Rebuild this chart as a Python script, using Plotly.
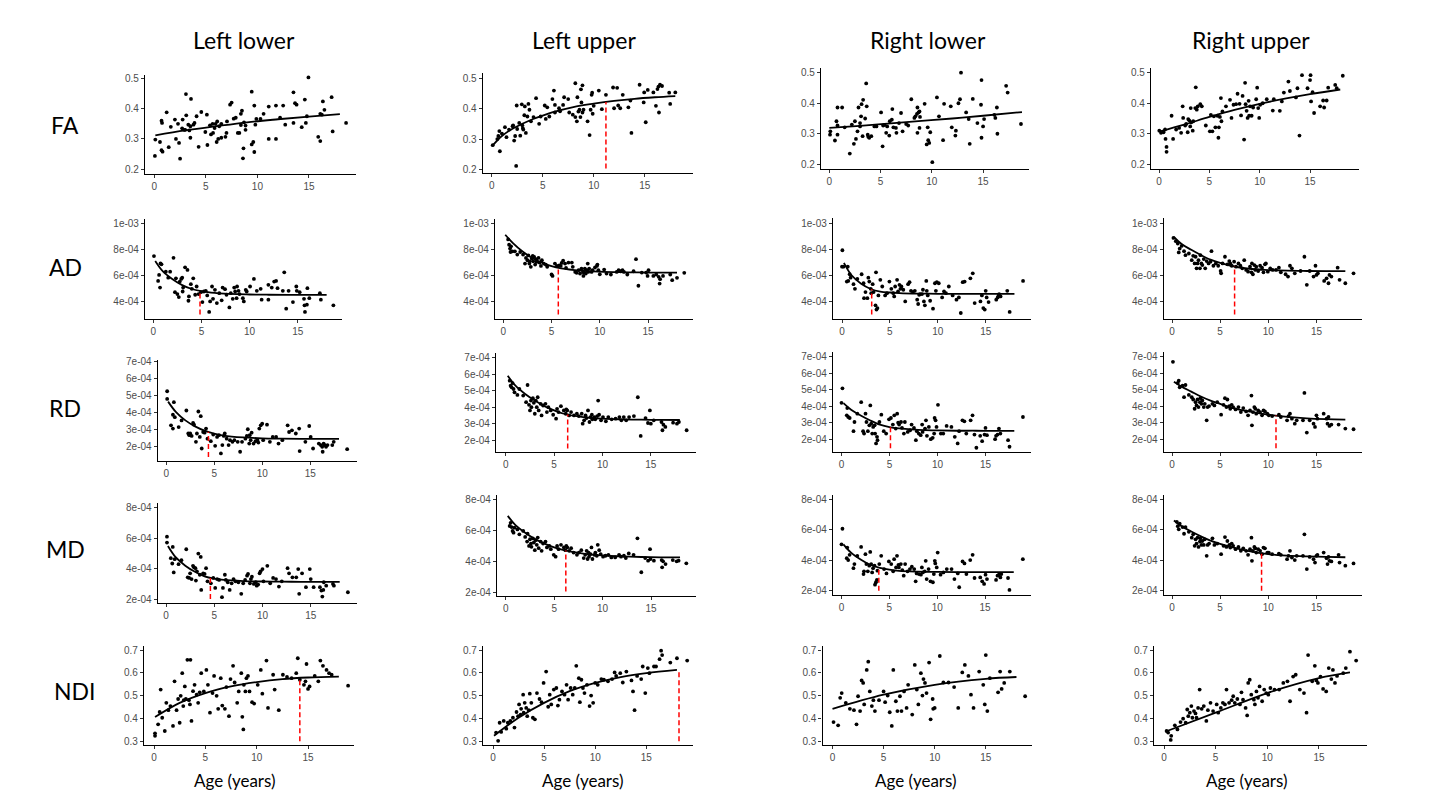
import numpy as np
import plotly.graph_objects as go

W, H = 1429, 805

COLS = ["LL", "LU", "RL", "RU"]
COL_TITLES = ["Left lower", "Left upper", "Right lower", "Right upper"]
ROWS = ["FA", "AD", "RD", "MD", "NDI"]
X_TICKS = [0, 5, 10, 15]
Y_TICKS = {
    "FA": ([0.2, 0.3, 0.4, 0.5], ["0.2", "0.3", "0.4", "0.5"]),
    "AD": ([4e-4, 6e-4, 8e-4, 1e-3], ["4e-04", "6e-04", "8e-04", "1e-03"]),
    "RD": ([2e-4, 3e-4, 4e-4, 5e-4, 6e-4, 7e-4], ["2e-04", "3e-04", "4e-04", "5e-04", "6e-04", "7e-04"]),
    "MD": ([2e-4, 4e-4, 6e-4, 8e-4], ["2e-04", "4e-04", "6e-04", "8e-04"]),
    "NDI": ([0.3, 0.4, 0.5, 0.6, 0.7], ["0.3", "0.4", "0.5", "0.6", "0.7"]),
}
# diffusion values for AD/RD/MD are written in units of 1e-4
UNIT = {"FA": 1.0, "AD": 1e-4, "RD": 1e-4, "MD": 1e-4, "NDI": 1.0}

# ---------------- FA ----------------
FA_LL = [(0.06,0.244),(0.1,0.298),(0.55,0.29),(0.7,0.36),(0.75,0.353),(0.7,0.263),(0.8,0.258),(1.2,0.388),
 (1.4,0.273),(1.6,0.34),(2.0,0.364),(2.1,0.30),(2.3,0.35),(2.4,0.287),(2.5,0.235),(2.7,0.335),(2.75,0.364),
 (2.9,0.33),(3.0,0.33),(3.07,0.448),(3.1,0.378),(3.3,0.347),(3.4,0.328),(3.5,0.342),(3.56,0.432),(3.5,0.304),
 (3.8,0.347),(3.9,0.353),(4.1,0.375),(4.3,0.274),(4.56,0.389),(4.95,0.323),(5.1,0.38),(5.15,0.28),(5.4,0.345),
 (5.5,0.315),(5.66,0.35),(5.7,0.32),(5.85,0.336),(5.95,0.35),(6.05,0.29),(6.1,0.358),(6.2,0.30),(6.3,0.342),
 (6.5,0.304),(6.5,0.35),(6.9,0.307),(7.0,0.32),(7.05,0.358),(7.35,0.413),(7.5,0.42),(7.7,0.367),(7.9,0.37),
 (8.1,0.32),(8.25,0.32),(8.4,0.383),(8.4,0.346),(8.5,0.393),(8.6,0.236),(8.65,0.269),(8.7,0.355),(8.85,0.344),
 (8.85,0.33),(9.45,0.456),(9.45,0.282),(9.6,0.29),(9.7,0.41),(9.7,0.257),(9.8,0.347),(9.9,0.366),(10.3,0.366),
 (10.6,0.383),(11.1,0.407),(11.1,0.30),(11.8,0.41),(11.8,0.30),(12.2,0.37),(12.5,0.41),(12.7,0.347),(13.5,0.454),
 (13.5,0.353),(13.65,0.418),(13.8,0.413),(14.3,0.339),(14.6,0.43),(14.7,0.353),(14.95,0.503),(14.8,0.375),
 (15.9,0.307),(16.1,0.293),(16.1,0.383),(16.25,0.38),(16.35,0.424),(16.5,0.396),(17.2,0.438),(17.3,0.325),(18.6,0.353)]
FA_LU = [(0.1,0.28),(0.55,0.30),(0.65,0.31),(0.75,0.326),(0.8,0.26),(1.0,0.318),(1.3,0.339),(1.45,0.306),
 (1.7,0.331),(2.05,0.342),(2.1,0.345),(2.2,0.295),(2.3,0.31),(2.4,0.212),(2.45,0.41),(2.5,0.333),(2.7,0.353),
 (2.8,0.311),(2.95,0.414),(3.0,0.345),(3.05,0.336),(3.1,0.331),(3.2,0.378),(3.25,0.407),(3.35,0.32),(3.5,0.374),
 (3.6,0.415),(3.7,0.396),(3.85,0.358),(4.1,0.372),(4.35,0.434),(4.65,0.35),(4.8,0.374),(5.2,0.41),(5.3,0.366),
 (5.45,0.404),(5.65,0.374),(5.95,0.431),(6.1,0.459),(6.2,0.412),(6.2,0.387),(6.6,0.401),(6.7,0.391),(7.0,0.412),
 (7.1,0.437),(7.5,0.431),(7.6,0.387),(7.95,0.38),(8.2,0.372),(8.2,0.483),(8.35,0.358),(8.4,0.437),(8.5,0.39),
 (8.6,0.396),(8.7,0.372),(8.75,0.463),(8.8,0.42),(8.9,0.476),(8.9,0.387),(9.0,0.396),(9.4,0.358),(9.6,0.313),
 (9.7,0.396),(9.8,0.445),(9.85,0.452),(9.9,0.383),(10.0,0.409),(10.5,0.459),(10.8,0.398),(11.2,0.445),
 (11.9,0.469),(12.0,0.401),(12.3,0.468),(12.4,0.41),(12.6,0.401),(12.85,0.445),(13.4,0.404),(13.7,0.32),
 (13.6,0.426),(14.5,0.478),(14.9,0.42),(14.95,0.453),(15.1,0.355),(15.3,0.461),(15.85,0.453),(16.1,0.409),
 (16.25,0.464),(16.35,0.472),(16.4,0.387),(16.5,0.478),(16.7,0.474),(17.4,0.452),(17.5,0.415),(18.0,0.453)]
FA_RL = [(0.07,0.297),(0.1,0.308),(0.55,0.278),(0.7,0.341),(0.8,0.386),(0.8,0.327),(0.8,0.297),(1.25,0.386),
 (1.5,0.321),(2.0,0.235),(2.2,0.33),(2.4,0.267),(2.5,0.341),(2.6,0.283),(2.75,0.308),(2.85,0.386),(3.0,0.335),
 (3.0,0.324),(3.1,0.357),(3.15,0.397),(3.25,0.292),(3.3,0.411),(3.5,0.35),(3.6,0.465),(3.65,0.39),(3.75,0.297),
 (3.8,0.29),(3.9,0.287),(4.1,0.292),(4.4,0.324),(4.6,0.324),(5.05,0.37),(5.2,0.259),(5.25,0.327),(5.4,0.329),
 (5.55,0.303),(5.65,0.324),(5.85,0.294),(5.9,0.341),(6.1,0.346),(6.15,0.381),(6.25,0.321),(6.5,0.319),
 (6.55,0.303),(6.8,0.335),(7.0,0.368),(7.15,0.308),(7.5,0.332),(7.7,0.327),(8.0,0.413),(8.3,0.352),(8.4,0.357),
 (8.55,0.365),(8.6,0.303),(8.6,0.386),(8.7,0.37),(8.8,0.373),(8.8,0.319),(8.85,0.355),(9.3,0.398),(9.5,0.265),
 (9.6,0.321),(9.65,0.279),(9.75,0.27),(9.85,0.305),(10.05,0.207),(10.5,0.419),(10.7,0.357),(11.1,0.279),
 (11.2,0.398),(11.85,0.39),(11.95,0.321),(12.3,0.294),(12.35,0.31),(12.6,0.40),(12.75,0.413),(12.85,0.50),
 (13.35,0.37),(13.6,0.348),(13.7,0.267),(14.0,0.414),(14.45,0.335),(14.8,0.395),(14.85,0.476),(14.85,0.287),
 (15.0,0.324),(15.1,0.348),(16.1,0.362),(16.2,0.352),(16.35,0.386),(16.4,0.30),(17.25,0.457),(17.4,0.435),(18.7,0.332)]
FA_RU = [(0.03,0.31),(0.2,0.303),(0.45,0.305),(0.6,0.314),(0.65,0.283),(0.75,0.257),(0.75,0.241),(1.25,0.359),
 (1.4,0.283),(1.7,0.314),(2.0,0.319),(2.2,0.303),(2.35,0.39),(2.4,0.352),(2.6,0.327),(2.7,0.332),(2.85,0.305),
 (2.9,0.348),(3.0,0.344),(3.1,0.324),(3.15,0.384),(3.2,0.337),(3.35,0.31),(3.4,0.341),(3.6,0.384),(3.65,0.452),
 (3.75,0.379),(3.85,0.39),(4.1,0.397),(4.25,0.39),(4.65,0.327),(5.05,0.308),(5.15,0.362),(5.3,0.308),(5.45,0.357),
 (5.6,0.321),(5.8,0.359),(5.9,0.287),(5.95,0.321),(6.05,0.355),(6.15,0.417),(6.2,0.341),(6.3,0.373),(6.65,0.39),
 (7.05,0.411),(7.2,0.352),(7.4,0.395),(7.65,0.397),(7.8,0.431),(8.0,0.398),(8.15,0.36),(8.3,0.424),(8.45,0.281),
 (8.55,0.467),(8.6,0.397),(8.7,0.375),(8.8,0.352),(8.9,0.408),(8.95,0.359),(9.05,0.39),(9.2,0.359),(9.35,0.386),
 (9.65,0.413),(9.75,0.451),(9.85,0.384),(9.95,0.352),(10.05,0.395),(10.3,0.40),(10.7,0.413),(11.3,0.376),
 (11.4,0.413),(12.0,0.375),(12.2,0.406),(12.4,0.435),(12.85,0.471),(13.0,0.44),(13.6,0.419),(13.75,0.449),
 (13.95,0.294),(14.2,0.492),(14.75,0.449),(15.0,0.476),(15.05,0.492),(15.1,0.406),(15.25,0.436),(15.4,0.368),
 (16.0,0.39),(16.3,0.409),(16.4,0.386),(16.65,0.409),(16.8,0.451),(17.5,0.46),(17.65,0.449),(18.25,0.49)]

# ---------------- AD (x1e-4) ----------------
AD_LL = [(0.07,7.47),(0.5,5.57),(0.6,6.03),(0.7,5.06),(0.75,6.91),(0.85,6.84),(1.3,6.28),(1.55,5.82),(1.75,6.28),
 (2.1,7.34),(2.25,4.71),(2.35,5.77),(2.5,4.56),(2.65,4.33),(2.75,5.52),(2.9,5.72),(3.0,5.82),(3.05,4.76),(3.1,5.06),
 (3.3,6.61),(3.55,6.41),(3.65,4.05),(3.7,4.38),(3.9,5.32),(4.0,4.96),(4.15,5.77),(4.35,4.51),(4.5,5.14),(4.7,4.56),
 (4.95,4.71),(5.1,3.95),(5.25,4.76),(5.45,4.81),(5.6,4.46),(5.8,3.19),(5.9,4.0),(6.1,5.14),(6.2,4.2),(6.4,4.89),
 (6.6,3.87),(6.85,4.63),(7.1,4.08),(7.2,5.06),(7.45,4.94),(7.6,4.51),(7.9,3.54),(8.05,4.63),(8.25,4.2),(8.4,5.06),
 (8.5,4.76),(8.65,4.25),(8.7,5.14),(8.85,4.81),(8.95,4.56),(9.3,4.25),(9.4,4.0),(9.6,4.89),(9.7,4.76),(10.05,5.14),
 (10.45,5.72),(10.75,4.81),(11.15,4.96),(11.25,4.13),(11.95,4.13),(11.95,5.27),(12.3,5.06),(12.55,5.52),
 (12.75,5.57),(12.9,5.01),(13.45,4.81),(13.6,6.23),(13.8,3.44),(14.05,4.81),(14.5,3.95),(14.85,5.14),(14.9,4.81),
 (15.2,4.71),(15.65,4.2),(15.7,3.7),(15.75,3.19),(15.95,3.75),(16.0,5.01),(16.2,4.25),(17.3,4.63),(17.4,4.13),(18.7,3.7)]
AD_LU = [(0.5,8.79),(0.6,8.38),(0.7,8.08),(0.75,7.82),(0.8,8.26),(0.95,7.87),(1.2,7.87),(1.45,7.62),(1.75,7.82),
 (2.05,7.62),(2.25,6.92),(2.35,7.36),(2.5,7.18),(2.6,7.56),(2.7,6.92),(2.75,7.1),(2.85,6.67),(2.95,7.31),(3.05,7.51),
 (3.1,7.1),(3.2,7.44),(3.3,6.85),(3.4,7.26),(3.45,7.05),(3.65,7.36),(3.75,7.0),(3.9,6.74),(4.0,7.18),(4.2,6.92),
 (4.4,6.85),(4.55,6.67),(5.0,6.08),(5.1,5.97),(5.35,6.92),(5.55,6.74),(5.8,6.79),(5.95,6.74),(6.05,6.97),(6.2,7.15),
 (6.4,6.92),(6.5,6.59),(6.75,7.0),(7.1,7.0),(7.2,6.67),(7.45,6.28),(7.6,6.21),(7.8,6.41),(7.95,6.15),(8.1,6.54),
 (8.25,6.28),(8.3,5.97),(8.35,6.23),(8.45,6.54),(8.55,6.15),(8.65,6.41),(8.75,6.92),(8.8,6.28),(8.9,6.54),
 (9.15,6.28),(9.25,6.41),(9.5,6.62),(9.7,6.74),(9.75,6.85),(9.85,6.41),(10.0,6.1),(10.45,6.46),(10.7,6.15),
 (11.15,6.08),(11.75,6.28),(11.95,6.41),(12.15,6.33),(12.35,6.41),(12.5,6.28),(12.85,6.08),(13.5,6.33),(13.75,7.26),
 (14.0,5.21),(14.35,6.23),(14.8,6.23),(14.95,5.97),(15.05,6.41),(15.55,5.97),(15.85,6.08),(16.1,5.9),(16.2,5.38),
 (16.25,5.72),(16.55,5.97),(17.3,6.08),(17.5,5.64),(18.0,5.82),(18.75,6.21)]
AD_RL = [(0.04,7.92),(0.0,6.66),(0.15,6.66),(0.5,5.52),(0.6,6.66),(0.65,5.57),(0.8,6.08),(0.9,5.82),(1.2,5.32),
 (1.35,4.96),(1.6,5.72),(2.05,6.08),(2.25,5.39),(2.3,4.25),(2.45,4.71),(2.65,4.25),(2.75,5.82),(2.85,5.52),(3.0,4.96),
 (3.05,4.63),(3.2,5.32),(3.3,4.71),(3.5,3.7),(3.55,6.23),(3.6,3.37),(3.7,3.49),(3.8,4.46),(4.0,5.65),(4.2,5.14),
 (4.5,4.46),(4.7,4.63),(4.95,5.52),(5.15,4.96),(5.35,4.63),(5.45,4.38),(5.55,5.14),(5.75,5.65),(5.85,4.76),(6.0,5.27),
 (6.1,4.96),(6.2,5.14),(6.4,4.89),(6.6,4.0),(6.9,5.32),(7.05,5.47),(7.2,4.81),(7.4,4.71),(7.6,4.81),(7.85,4.13),
 (7.95,3.8),(8.05,4.51),(8.15,4.56),(8.35,4.56),(8.45,4.89),(8.55,4.0),(8.65,3.7),(8.8,5.57),(8.85,4.81),(8.95,4.46),
 (9.2,4.05),(9.5,3.44),(9.7,5.39),(9.8,4.81),(9.9,5.47),(10.1,5.39),(10.45,4.3),(10.65,4.76),(10.85,4.63),(11.15,5.14),
 (11.55,4.46),(11.95,4.13),(12.2,4.3),(12.4,3.11),(12.6,5.47),(12.8,5.52),(13.4,5.77),(13.65,6.15),(13.85,3.87),
 (14.45,4.0),(14.6,4.46),(14.75,3.49),(14.9,3.37),(15.0,4.81),(15.1,4.3),(15.3,3.95),(16.1,4.13),(16.25,4.3),
 (16.35,4.46),(16.4,4.56),(16.55,4.38),(17.25,4.81),(17.5,3.19),(18.9,5.57)]
AD_RU = [(0.15,8.86),(0.4,8.61),(0.6,8.43),(0.7,7.75),(0.8,8.05),(1.0,8.25),(1.25,7.85),(1.4,7.54),(1.75,7.67),
 (2.05,7.16),(2.2,7.49),(2.35,6.91),(2.45,7.42),(2.55,6.53),(2.65,6.91),(2.75,7.16),(2.9,6.53),(2.95,7.54),(3.05,6.91),
 (3.15,6.78),(3.3,7.24),(3.45,6.53),(3.6,7.09),(3.8,6.91),(4.0,7.04),(4.1,7.85),(4.3,6.73),(4.55,6.91),(4.8,6.73),
 (5.05,6.33),(5.1,6.15),(5.25,6.91),(5.5,7.42),(5.75,6.84),(5.95,7.09),(6.05,6.91),(6.2,6.73),(6.45,7.04),(6.65,6.66),
 (6.9,6.91),(7.1,6.73),(7.3,6.53),(7.5,7.16),(7.7,6.41),(7.9,6.28),(8.1,6.66),(8.25,6.23),(8.3,6.91),(8.4,6.08),
 (8.55,6.78),(8.65,6.41),(8.75,6.66),(8.95,6.33),(9.15,6.73),(9.35,6.58),(9.5,6.23),(9.65,6.84),(9.75,6.91),
 (9.95,6.28),(10.2,6.53),(10.45,6.41),(10.8,6.41),(11.1,6.58),(11.3,6.23),(11.8,6.08),(12.05,5.9),(12.25,6.73),
 (12.45,6.53),(12.75,6.15),(13.35,6.33),(13.75,7.42),(14.0,5.27),(14.3,6.33),(14.7,5.9),(14.9,6.73),(15.0,6.03),
 (15.15,6.15),(15.8,5.57),(16.05,5.77),(16.25,5.39),(16.35,6.03),(16.55,5.9),(17.2,6.58),(17.4,5.65),(18.0,5.39),(18.85,6.15)]

# ---------------- RD (x1e-4) ----------------
RD_LL = [(0.1,5.26),(0.1,4.81),(0.5,3.26),(0.7,3.07),(0.7,3.88),(0.8,4.62),(0.9,3.74),(1.3,3.16),(1.6,3.55),
 (2.1,4.13),(2.3,2.78),(2.4,2.68),(2.5,2.78),(2.65,2.64),(2.8,3.4),(2.9,3.3),(3.1,2.29),(3.2,2.78),(3.35,4.07),
 (3.5,2.58),(3.6,3.8),(3.7,1.9),(3.85,2.87),(4.0,2.83),(4.15,3.07),(4.3,2.48),(4.65,2.33),(4.9,2.72),(5.1,2.06),
 (5.3,2.58),(5.5,2.68),(5.7,1.61),(5.85,2.1),(6.0,2.64),(6.1,2.78),(6.3,2.48),(6.5,2.1),(6.65,2.39),(6.9,2.29),
 (7.1,2.39),(7.45,2.29),(7.7,1.71),(7.9,2.29),(8.25,2.48),(8.4,2.64),(8.5,3.03),(8.65,2.19),(8.7,2.68),(8.8,2.39),
 (8.9,2.83),(9.1,2.19),(9.3,2.33),(9.5,2.39),(9.6,2.25),(9.7,3.07),(9.85,3.26),(10.0,3.36),(10.1,2.39),(10.5,3.3),
 (10.8,2.29),(11.1,2.58),(11.45,2.58),(11.7,2.19),(12.1,2.39),(12.65,3.26),(12.8,2.87),(13.1,2.97),(13.5,2.78),
 (13.85,3.07),(13.9,1.75),(14.5,2.29),(14.9,3.22),(15.05,2.58),(15.3,1.9),(15.9,2.19),(16.1,2.1),(16.25,2.0),
 (16.3,1.71),(16.4,2.19),(16.5,2.1),(16.65,2.0),(16.8,2.1),(17.3,2.1),(17.45,2.29),(18.85,1.86)]
RD_LU = [(0.4,5.6),(0.5,5.3),(0.6,5.2),(0.7,5.46),(0.8,5.1),(0.9,4.9),(1.2,4.74),(1.4,5.1),(1.8,4.7),(2.1,4.3),
 (2.25,5.34),(2.4,4.14),(2.5,3.8),(2.6,4.4),(2.65,4.0),(2.8,4.54),(2.9,4.26),(3.0,3.6),(3.1,4.4),(3.2,4.0),(3.3,4.6),
 (3.4,3.8),(3.6,4.2),(3.7,3.5),(3.85,4.1),(4.1,4.2),(4.25,3.7),(4.4,4.0),(4.65,3.8),(4.9,3.54),(5.2,3.3),(5.3,3.9),
 (5.45,3.7),(5.7,4.06),(6.0,3.8),(6.2,3.6),(6.25,3.86),(6.35,3.8),(6.55,3.5),(6.75,3.7),(7.05,3.5),(7.35,3.6),
 (7.55,3.46),(7.85,3.6),(7.95,3.0),(8.1,3.2),(8.25,3.5),(8.35,3.34),(8.5,3.8),(8.65,3.1),(8.75,3.4),(8.9,3.54),
 (8.95,3.26),(9.15,3.4),(9.25,3.26),(9.45,3.46),(9.55,4.4),(9.65,3.54),(9.85,3.2),(10.05,3.4),(10.35,3.14),
 (10.6,3.4),(10.95,3.26),(11.35,3.3),(11.75,3.4),(11.95,3.2),(12.2,3.4),(12.45,3.2),(12.75,3.4),(13.25,3.46),
 (13.65,4.6),(13.95,2.26),(14.45,3.34),(14.7,3.04),(14.9,3.8),(15.0,3.0),(15.3,3.2),(16.1,3.1),(16.2,2.6),
 (16.3,2.94),(16.5,2.8),(17.3,3.06),(17.7,3.0),(17.9,3.1),(18.7,2.6)]
RD_RL = [(0.1,5.1),(0.0,4.22),(0.55,3.46),(0.6,3.9),(0.7,3.36),(0.85,3.3),(1.25,2.5),(1.35,3.06),(1.65,3.56),
 (2.05,4.26),(2.25,2.5),(2.35,2.36),(2.5,3.56),(2.6,3.06),(2.75,2.5),(2.9,2.86),(3.0,4.06),(3.1,2.96),(3.2,2.36),
 (3.3,2.76),(3.45,2.86),(3.5,2.36),(3.6,1.76),(3.7,2.16),(3.75,1.96),(3.95,3.06),(4.15,3.5),(4.4,2.5),(4.65,2.36),
 (4.95,3.22),(5.15,3.3),(5.35,2.9),(5.5,3.46),(5.65,2.66),(5.8,3.56),(5.9,3.02),(6.0,2.9),(6.2,3.06),(6.3,2.7),
 (6.5,2.36),(6.6,3.06),(6.9,2.46),(7.15,2.56),(7.3,2.9),(7.55,2.7),(7.75,1.96),(7.85,2.5),(8.05,2.36),(8.25,2.26),
 (8.4,2.9),(8.45,2.46),(8.7,2.66),(8.8,3.16),(8.9,2.22),(9.1,2.76),(9.3,2.02),(9.5,2.1),(9.65,2.36),(9.7,3.3),
 (9.8,3.16),(9.9,2.76),(10.05,4.1),(10.35,2.36),(10.6,2.36),(10.95,2.82),(11.45,2.76),(11.8,2.16),(12.1,1.76),
 (12.25,2.5),(12.6,3.16),(12.8,3.1),(13.0,2.36),(13.45,3.16),(13.65,3.46),(13.85,2.3),(14.05,1.5),(14.45,2.22),
 (14.65,1.9),(14.9,2.3),(15.0,2.7),(15.15,2.26),(16.0,2.02),(16.1,2.22),(16.25,2.3),(16.4,2.66),(16.55,2.36),
 (17.35,1.96),(17.5,1.56),(18.9,3.36)]
RD_RU = [(0.1,6.7),(0.6,5.42),(0.7,5.56),(0.8,5.16),(1.1,5.26),(1.25,4.56),(1.4,5.3),(1.75,4.7),(2.05,4.56),
 (2.2,4.42),(2.35,3.86),(2.45,4.26),(2.55,4.06),(2.65,4.42),(2.75,3.96),(2.9,4.26),(2.95,4.5),(3.05,4.16),(3.15,4.36),
 (3.3,3.96),(3.4,4.16),(3.6,3.16),(3.7,3.96),(3.85,4.02),(4.2,4.16),(4.4,4.06),(4.7,4.26),(5.1,3.5),(5.35,4.1),
 (5.5,4.5),(5.65,3.96),(5.75,4.42),(5.95,4.02),(6.05,3.86),(6.2,4.1),(6.35,3.96),(6.6,3.82),(6.9,3.96),(7.15,3.66),
 (7.4,3.9),(7.7,3.7),(7.9,3.46),(8.1,3.76),(8.25,4.66),(8.3,2.86),(8.4,3.66),(8.55,3.96),(8.65,3.86),(8.75,3.56),
 (8.95,3.76),(9.15,3.66),(9.35,3.46),(9.5,3.76),(9.65,3.7),(9.9,3.56),(10.05,3.46),(10.4,3.42),(11.1,3.5),
 (11.3,3.36),(11.95,3.16),(12.1,3.42),(12.25,3.56),(12.45,3.26),(12.75,2.96),(12.95,3.16),(13.6,3.16),(13.75,4.82),
 (14.0,2.42),(14.3,3.16),(14.7,2.96),(14.85,2.76),(15.0,3.46),(15.1,3.26),(15.75,3.56),(16.05,3.26),(16.15,2.96),
 (16.25,3.36),(16.35,2.82),(16.55,2.9),(17.3,2.9),(18.0,2.66),(18.85,2.62)]

# ---------------- MD (x1e-4) ----------------
MD_LL = [(0.1,6.09),(0.1,5.7),(0.5,4.69),(0.65,4.34),(0.7,5.42),(0.8,3.76),(0.9,4.62),(1.3,4.3),(1.6,4.56),
 (2.1,5.27),(2.25,3.44),(2.4,3.4),(2.5,3.7),(2.65,3.33),(2.8,4.19),(2.9,4.09),(3.05,4.04),(3.1,3.23),(3.2,3.83),
 (3.35,4.99),(3.5,3.61),(3.6,4.77),(3.65,2.62),(3.85,3.7),(4.0,3.66),(4.15,4.04),(4.3,3.18),(4.65,3.05),(4.9,3.4),
 (5.1,2.75),(5.3,3.33),(5.5,3.27),(5.8,2.15),(5.9,2.75),(6.1,3.61),(6.2,3.27),(6.4,3.12),(6.6,2.62),(6.8,3.05),
 (7.0,3.33),(7.2,3.18),(7.5,3.12),(7.8,2.37),(8.0,3.05),(8.2,3.27),(8.4,3.55),(8.5,3.66),(8.7,3.05),(8.8,3.33),
 (8.9,3.48),(9.1,3.01),(9.3,3.12),(9.4,2.9),(9.55,2.97),(9.7,3.7),(9.8,3.83),(10.0,3.98),(10.1,3.18),(10.5,4.19),
 (10.8,3.05),(11.1,3.4),(11.4,3.33),(11.7,2.84),(12.0,3.18),(12.6,4.04),(12.75,3.7),(13.1,3.44),(13.5,3.44),
 (13.7,3.98),(13.8,2.37),(14.1,3.7),(14.5,2.8),(14.9,3.98),(15.0,3.33),(15.3,2.8),(15.95,2.8),(16.1,2.58),
 (16.2,2.19),(16.3,2.62),(16.35,3.12),(16.6,2.9),(17.3,3.01),(17.4,2.9),(18.85,2.47)]
MD_LU = [(0.4,6.29),(0.5,6.5),(0.6,6.22),(0.7,5.97),(0.8,5.86),(0.9,6.18),(1.2,6.07),(1.4,5.75),(1.8,5.97),
 (2.0,5.58),(2.2,5.28),(2.25,5.79),(2.4,5.0),(2.5,5.43),(2.6,5.15),(2.65,4.94),(2.8,5.49),(2.9,5.22),(3.0,4.72),
 (3.1,5.37),(3.2,5.07),(3.3,5.54),(3.4,4.85),(3.6,5.28),(3.7,4.68),(3.85,5.15),(4.1,5.28),(4.25,4.9),(4.5,5.0),
 (4.65,4.79),(4.95,4.42),(5.15,4.3),(5.3,5.0),(5.45,4.79),(5.7,5.07),(6.0,4.9),(6.15,4.72),(6.25,5.0),(6.35,4.9),
 (6.55,4.68),(6.75,4.85),(7.0,4.57),(7.35,4.42),(7.55,4.57),(7.8,4.72),(8.05,4.21),(8.2,4.42),(8.35,4.68),
 (8.45,4.15),(8.55,4.57),(8.6,4.3),(8.75,4.47),(8.85,4.9),(8.95,4.15),(9.15,4.42),(9.25,4.57),(9.4,4.36),(9.5,5.07),
 (9.65,4.72),(9.8,4.47),(10.05,4.3),(10.3,4.36),(10.6,4.42),(10.9,4.25),(11.3,4.25),(11.7,4.42),(11.9,4.3),
 (12.2,4.36),(12.4,4.21),(12.7,4.51),(13.2,4.42),(13.6,5.49),(14.0,3.29),(14.4,4.21),(14.7,4.04),(14.9,4.79),
 (14.95,4.15),(15.3,4.04),(16.1,4.08),(16.15,3.61),(16.25,4.0),(16.5,3.82),(17.25,4.08),(17.65,4.0),(17.85,4.04),(18.65,3.87)]
MD_RL = [(0.1,6.08),(0.0,5.05),(0.55,4.14),(0.6,4.84),(0.7,4.01),(0.85,4.36),(1.25,3.48),(1.35,3.75),(1.65,4.29),
 (2.05,4.88),(2.3,3.09),(2.35,3.27),(2.5,4.4),(2.6,3.75),(2.75,3.27),(2.9,3.64),(3.0,4.55),(3.1,3.75),(3.2,3.2),
 (3.3,3.48),(3.45,3.64),(3.5,2.39),(3.6,2.55),(3.7,2.7),(3.75,3.31),(3.95,3.75),(4.15,4.29),(4.45,3.42),(4.7,3.13),
 (4.95,3.92),(5.2,3.75),(5.4,3.27),(5.5,4.07),(5.7,3.53),(5.8,4.29),(5.95,3.7),(6.0,3.53),(6.2,3.75),(6.35,3.35),
 (6.5,2.98),(6.65,3.75),(6.9,3.27),(7.15,3.42),(7.35,3.57),(7.6,3.42),(7.75,2.61),(7.85,3.13),(8.1,3.09),(8.3,3.05),
 (8.4,3.53),(8.5,3.2),(8.7,3.27),(8.8,3.96),(8.9,2.76),(9.1,3.42),(9.3,2.61),(9.55,2.55),(9.65,3.09),(9.75,3.96),
 (9.8,3.79),(9.95,3.53),(10.05,4.51),(10.35,3.05),(10.65,3.2),(11.0,3.42),(11.5,3.42),(11.8,2.76),(12.15,3.13),
 (12.3,2.22),(12.65,3.92),(12.85,3.79),(13.05,3.09),(13.45,4.01),(13.7,4.36),(13.9,2.83),(14.5,2.87),(14.7,2.61),
 (14.9,2.44),(15.05,3.05),(15.2,2.76),(16.15,2.7),(16.3,2.98),(16.45,3.05),(16.6,2.87),(16.7,3.09),(17.4,2.83),
 (17.55,2.04),(18.95,4.07)]
MD_RU = [(0.5,6.54),(0.6,6.25),(0.7,6.04),(0.8,6.41),(1.1,6.19),(1.25,5.75),(1.4,6.19),(1.75,5.88),(2.05,5.49),
 (2.2,5.71),(2.35,4.95),(2.45,5.38),(2.55,5.1),(2.65,5.49),(2.75,4.88),(2.9,5.23),(2.95,5.45),(3.05,5.01),(3.15,5.27),
 (3.3,5.01),(3.4,5.38),(3.6,4.29),(3.7,5.01),(3.85,5.1),(4.2,5.45),(4.4,5.01),(4.7,5.1),(5.1,4.4),(5.35,4.95),
 (5.5,5.53),(5.65,4.88),(5.75,5.27),(5.95,5.01),(6.05,4.84),(6.2,5.1),(6.35,4.95),(6.6,4.73),(6.9,4.88),(7.15,4.62),
 (7.4,4.79),(7.7,4.62),(7.9,4.36),(8.1,4.73),(8.25,5.49),(8.3,3.96),(8.4,4.62),(8.55,4.88),(8.65,4.79),(8.75,4.51),
 (8.95,4.73),(9.15,4.62),(9.35,4.4),(9.5,4.84),(9.65,4.79),(9.9,4.51),(10.05,4.51),(10.4,4.4),(11.1,4.44),(11.3,4.36),
 (11.95,4.07),(12.1,4.29),(12.25,4.62),(12.45,4.18),(12.75,4.01),(12.95,4.29),(13.6,4.29),(13.75,5.71),(14.0,3.42),
 (14.3,4.22),(14.7,4.07),(14.85,3.85),(15.0,4.29),(15.1,4.36),(15.75,4.51),(16.05,4.14),(16.15,3.75),(16.25,4.22),
 (16.35,3.96),(16.55,3.92),(17.3,4.36),(17.4,3.85),(18.0,3.64),(18.85,3.79)]

# ---------------- NDI ----------------
NDI_LL = [(0.1,0.336),(0.1,0.325),(0.4,0.375),(0.55,0.429),(0.65,0.527),(0.8,0.404),(1.05,0.346),(1.2,0.469),
 (1.4,0.437),(1.6,0.455),(1.85,0.368),(2.0,0.563),(2.2,0.437),(2.35,0.486),(2.5,0.382),(2.6,0.50),(2.75,0.599),
 (2.85,0.455),(2.9,0.481),(3.0,0.541),(3.1,0.486),(3.25,0.657),(3.4,0.481),(3.5,0.462),(3.55,0.657),(3.65,0.39),
 (3.8,0.52),(3.95,0.548),(4.15,0.505),(4.3,0.469),(4.45,0.515),(4.6,0.599),(4.85,0.519),(5.1,0.613),(5.25,0.548),
 (5.45,0.426),(5.7,0.512),(5.85,0.587),(6.1,0.50),(6.25,0.443),(6.5,0.577),(6.65,0.457),(6.9,0.443),(7.05,0.538),
 (7.3,0.411),(7.45,0.573),(7.7,0.631),(7.85,0.558),(8.1,0.469),(8.25,0.519),(8.5,0.599),(8.6,0.408),(8.7,0.353),
 (8.75,0.548),(8.9,0.519),(9.0,0.577),(9.15,0.587),(9.3,0.519),(9.55,0.472),(9.75,0.466),(10.1,0.548),(10.4,0.613),
 (10.55,0.509),(10.95,0.654),(11.1,0.447),(11.6,0.592),(11.75,0.527),(12.15,0.437),(12.55,0.592),(12.95,0.582),
 (13.4,0.577),(13.85,0.599),(14.0,0.664),(14.2,0.57),(14.6,0.548),(14.75,0.563),(14.85,0.639),(15.0,0.53),
 (15.15,0.541),(15.65,0.587),(16.0,0.563),(16.2,0.654),(16.45,0.631),(16.8,0.613),(17.05,0.599),(17.3,0.592),(18.9,0.544)]
NDI_LU = [(0.3,0.339),(0.5,0.303),(0.65,0.382),(0.8,0.342),(1.05,0.39),(1.3,0.356),(1.45,0.382),(1.7,0.39),
 (1.95,0.404),(2.1,0.361),(2.3,0.429),(2.45,0.411),(2.55,0.462),(2.7,0.418),(2.75,0.443),(2.95,0.505),(3.0,0.426),
 (3.1,0.469),(3.25,0.447),(3.35,0.411),(3.5,0.437),(3.6,0.509),(3.75,0.469),(3.9,0.404),(4.1,0.397),(4.3,0.512),
 (4.55,0.486),(4.75,0.472),(4.95,0.556),(5.2,0.606),(5.4,0.452),(5.55,0.505),(5.7,0.462),(5.95,0.527),(6.2,0.534),
 (6.35,0.457),(6.5,0.483),(6.75,0.519),(7.0,0.505),(7.2,0.548),(7.35,0.483),(7.6,0.534),(7.8,0.505),(8.0,0.534),
 (8.15,0.631),(8.4,0.577),(8.5,0.472),(8.65,0.57),(8.8,0.534),(8.95,0.512),(9.2,0.548),(9.45,0.455),(9.6,0.501),
 (9.8,0.469),(10.0,0.556),(10.25,0.548),(10.6,0.573),(10.85,0.57),(11.25,0.563),(11.65,0.573),(11.9,0.602),
 (12.05,0.587),(12.45,0.599),(12.7,0.558),(13.05,0.606),(13.55,0.567),(13.7,0.519),(13.85,0.437),(14.1,0.587),
 (14.5,0.573),(14.65,0.628),(14.9,0.512),(15.15,0.621),(15.3,0.599),(15.75,0.628),(15.95,0.628),(16.3,0.66),
 (16.45,0.697),(16.55,0.678),(17.35,0.645),(18.0,0.664),(19.0,0.654)]
NDI_RL = [(0.1,0.385),(0.55,0.371),(0.75,0.491),(0.9,0.512),(1.3,0.469),(1.7,0.443),(2.1,0.437),(2.35,0.375),
 (2.5,0.498),(2.7,0.433),(2.85,0.567),(3.0,0.556),(3.1,0.462),(3.35,0.613),(3.5,0.649),(3.65,0.519),(3.85,0.455),
 (4.0,0.481),(4.15,0.433),(4.55,0.481),(5.0,0.519),(5.15,0.472),(5.4,0.501),(5.6,0.428),(5.8,0.368),(5.95,0.613),
 (6.2,0.476),(6.35,0.433),(6.6,0.498),(6.75,0.433),(7.0,0.519),(7.25,0.447),(7.4,0.548),(7.8,0.418),(8.05,0.635),
 (8.25,0.527),(8.4,0.462),(8.65,0.599),(8.8,0.501),(8.9,0.573),(9.05,0.556),(9.2,0.512),(9.45,0.645),(9.6,0.397),
 (9.8,0.486),(9.85,0.443),(10.0,0.447),(10.5,0.674),(10.85,0.558),(11.35,0.558),(11.9,0.538),(12.3,0.447),
 (12.7,0.602),(12.95,0.635),(13.3,0.587),(13.55,0.505),(13.8,0.447),(14.35,0.606),(14.75,0.548),(14.9,0.462),
 (15.0,0.678),(15.15,0.433),(15.4,0.577),(16.2,0.515),(16.4,0.606),(16.55,0.53),(16.8,0.556),(17.35,0.606),(18.85,0.498)]
NDI_RU = [(0.25,0.346),(0.4,0.339),(0.65,0.307),(0.7,0.325),(1.05,0.371),(1.3,0.353),(1.6,0.385),(1.85,0.40),
 (2.1,0.382),(2.25,0.44),(2.35,0.411),(2.5,0.426),(2.65,0.455),(2.75,0.404),(2.9,0.433),(3.05,0.423),(3.15,0.404),
 (3.3,0.447),(3.45,0.527),(3.65,0.443),(3.85,0.455),(4.1,0.39),(4.25,0.437),(4.5,0.469),(4.75,0.433),(5.1,0.462),
 (5.25,0.426),(5.5,0.447),(5.7,0.469),(5.9,0.462),(6.05,0.527),(6.3,0.469),(6.55,0.481),(6.7,0.498),(6.85,0.469),
 (7.1,0.486),(7.35,0.462),(7.5,0.515),(7.65,0.483),(7.9,0.447),(8.05,0.414),(8.15,0.556),(8.3,0.57),(8.45,0.505),
 (8.7,0.483),(8.8,0.462),(8.95,0.519),(9.1,0.491),(9.25,0.541),(9.5,0.476),(9.7,0.527),(9.9,0.512),(10.1,0.505),
 (10.3,0.534),(10.7,0.527),(11.15,0.527),(11.55,0.556),(11.95,0.563),(12.2,0.476),(12.5,0.584),(12.75,0.592),
 (13.15,0.527),(13.55,0.512),(13.8,0.426),(13.95,0.678),(14.35,0.563),(14.6,0.631),(14.75,0.567),(14.9,0.556),
 (15.15,0.584),(15.4,0.53),(15.7,0.519),(15.95,0.621),(16.2,0.573),(16.35,0.613),(16.55,0.556),(16.75,0.587),
 (17.35,0.599),(17.6,0.621),(18.0,0.693),(18.6,0.654)]

# ---------------- fitted curves ----------------
FIT_X13 = [0.2, 1, 2, 3, 4, 5, 6, 8, 10, 12, 14, 16, 18]
FIT = {
    ("FA", "LL"): ([0.1, 3, 6, 9, 12, 15, 18], [0.312, 0.328, 0.342, 0.355, 0.365, 0.374, 0.382]),
    ("FA", "LU"): ([0.1, 1, 2, 3, 4, 5, 6, 8, 10, 12, 14, 16, 18],
                   [0.279, 0.31, 0.333, 0.35, 0.365, 0.377, 0.388, 0.405, 0.416, 0.425, 0.432, 0.437, 0.441]),
    ("FA", "RL"): ([0.0, 3, 6, 9, 12, 15, 18.8], [0.319, 0.326, 0.334, 0.342, 0.350, 0.359, 0.371]),
    ("FA", "RU"): ([0.1, 2.5, 5, 7.5, 10, 12.5, 15, 18], [0.308, 0.33, 0.355, 0.378, 0.398, 0.415, 0.43, 0.445]),
    ("AD", "LL"): (FIT_X13, [7.1, 6.3, 5.7, 5.25, 4.95, 4.78, 4.67, 4.57, 4.53, 4.51, 4.5, 4.5, 4.5]),
    ("AD", "LU"): (FIT_X13, [9.15, 8.5, 7.85, 7.35, 7.0, 6.72, 6.55, 6.38, 6.3, 6.26, 6.24, 6.22, 6.22]),
    ("AD", "RL"): (FIT_X13, [6.95, 6.0, 5.35, 4.95, 4.75, 4.68, 4.64, 4.6, 4.58, 4.57, 4.57, 4.57, 4.57]),
    ("AD", "RU"): (FIT_X13, [8.95, 8.4, 7.95, 7.55, 7.2, 6.95, 6.75, 6.5, 6.4, 6.35, 6.33, 6.32, 6.32]),
    ("RD", "LL"): (FIT_X13, [4.65, 4.05, 3.55, 3.2, 2.95, 2.78, 2.66, 2.55, 2.5, 2.48, 2.47, 2.47, 2.47]),
    ("RD", "LU"): (FIT_X13, [5.9, 5.3, 4.8, 4.4, 4.05, 3.8, 3.6, 3.4, 3.3, 3.26, 3.24, 3.23, 3.22]),
    ("RD", "RL"): (FIT_X13, [4.2, 3.8, 3.45, 3.15, 2.9, 2.75, 2.67, 2.58, 2.55, 2.53, 2.53, 2.52, 2.52]),
    ("RD", "RU"): (FIT_X13, [5.5, 5.2, 4.9, 4.6, 4.35, 4.15, 3.95, 3.7, 3.5, 3.37, 3.28, 3.23, 3.2]),
    ("MD", "LL"): (FIT_X13, [5.48, 4.75, 4.2, 3.8, 3.5, 3.35, 3.27, 3.2, 3.17, 3.16, 3.15, 3.15, 3.15]),
    ("MD", "LU"): (FIT_X13, [6.95, 6.35, 5.85, 5.45, 5.15, 4.9, 4.72, 4.5, 4.38, 4.32, 4.28, 4.26, 4.25]),
    ("MD", "RL"): (FIT_X13, [5.05, 4.5, 4.05, 3.7, 3.5, 3.38, 3.3, 3.25, 3.23, 3.22, 3.22, 3.22, 3.22]),
    ("MD", "RU"): (FIT_X13, [6.62, 6.25, 5.9, 5.58, 5.3, 5.08, 4.9, 4.6, 4.4, 4.3, 4.25, 4.22, 4.2]),
    ("NDI", "LL"): ([0.1, 2.5, 5, 7.5, 10, 12.5, 15, 18], [0.407, 0.469, 0.512, 0.541, 0.56, 0.573, 0.58, 0.584]),
    ("NDI", "LU"): ([0.1, 2.5, 5, 7.5, 10, 12.5, 15, 18], [0.325, 0.404, 0.469, 0.52, 0.556, 0.582, 0.599, 0.613]),
    ("NDI", "RL"): ([0.0, 5, 10, 15, 18], [0.443, 0.505, 0.548, 0.574, 0.582]),
    ("NDI", "RU"): ([0.3, 5, 10, 15, 18], [0.346, 0.426, 0.512, 0.577, 0.602]),
}
# ages marked with the red dashed line
VLINE = {
    ("FA", "LU"): 11.2,
    ("AD", "LL"): 4.85, ("AD", "LU"): 5.7, ("AD", "RL"): 3.1, ("AD", "RU"): 6.5,
    ("RD", "LL"): 4.4, ("RD", "LU"): 6.4, ("RD", "RL"): 5.1, ("RD", "RU"): 10.8,
    ("MD", "LL"): 4.6, ("MD", "LU"): 6.2, ("MD", "RL"): 3.9, ("MD", "RU"): 9.3,
    ("NDI", "LL"): 14.2, ("NDI", "LU"): 18.2,
}
POINTS = {
    ("FA", "LL"): FA_LL, ("FA", "LU"): FA_LU, ("FA", "RL"): FA_RL, ("FA", "RU"): FA_RU,
    ("AD", "LL"): AD_LL, ("AD", "LU"): AD_LU, ("AD", "RL"): AD_RL, ("AD", "RU"): AD_RU,
    ("RD", "LL"): RD_LL, ("RD", "LU"): RD_LU, ("RD", "RL"): RD_RL, ("RD", "RU"): RD_RU,
    ("MD", "LL"): MD_LL, ("MD", "LU"): MD_LU, ("MD", "RL"): MD_RL, ("MD", "RU"): MD_RU,
    ("NDI", "LL"): NDI_LL, ("NDI", "LU"): NDI_LU, ("NDI", "RL"): NDI_RL, ("NDI", "RU"): NDI_RU,
}

# ---------------- panel geometry (pixels) ----------------
# (left, right, top, bottom, px of x=0, px per year, tickA value, tickA px, tickB value, tickB px)
GEOM = {
    ("FA", "LL"): (145, 356, 71.7, 171, 154.3, 10.31, 0.5, 75, 0.2, 166.7),
    ("FA", "LU"): (482.7, 693.3, 70, 170, 491.7, 10.2, 0.5, 74.7, 0.2, 167),
    ("FA", "RL"): (821, 1029.3, 64.7, 166.7, 829.3, 10.25, 0.5, 69.3, 0.2, 161.7),
    ("FA", "RU"): (1151, 1359.3, 64.7, 166.7, 1159, 10.07, 0.5, 69.3, 0.2, 161.7),
    ("AD", "LL"): (145, 342.3, 216.7, 317.3, 153.3, 9.63, 1e-3, 221, 4e-4, 300),
    ("AD", "LU"): (495, 693.3, 216.7, 317.3, 503.3, 9.65, 1e-3, 221.7, 4e-4, 300),
    ("AD", "RL"): (832.8, 1030.8, 216, 317.3, 842, 9.58, 1e-3, 221, 4e-4, 300),
    ("AD", "RU"): (1163.7, 1361.7, 216, 317.3, 1172, 9.63, 1e-3, 221, 4e-4, 300),
    ("RD", "LL"): (157.7, 357, 359, 461, 166.2, 9.6, 7e-4, 360.7, 2e-4, 446.7),
    ("RD", "LU"): (496, 696, 351.7, 452.3, 505.8, 9.67, 7e-4, 356.7, 2e-4, 440),
    ("RD", "RL"): (832.8, 1030.8, 351, 452.3, 841.5, 9.6, 7e-4, 356, 2e-4, 439.3),
    ("RD", "RU"): (1163.7, 1361.7, 351, 452.3, 1172, 9.63, 7e-4, 356, 2e-4, 439.3),
    ("MD", "LL"): (157.7, 357, 503.3, 604.3, 166, 9.65, 8e-4, 507.7, 2e-4, 600.7),
    ("MD", "LU"): (497, 696, 495, 596.7, 505.8, 9.68, 8e-4, 500, 2e-4, 593.3),
    ("MD", "RL"): (832.8, 1030.8, 495, 596, 841.5, 9.57, 8e-4, 500, 2e-4, 591.7),
    ("MD", "RU"): (1163.7, 1361.7, 495, 596, 1172, 9.63, 8e-4, 500, 2e-4, 591.7),
    ("NDI", "LL"): (144, 354, 647.3, 747.7, 154, 10.27, 0.7, 651.7, 0.3, 744),
    ("NDI", "LU"): (483, 693, 647.3, 747.7, 493, 10.22, 0.7, 651.7, 0.3, 744),
    ("NDI", "RL"): (822.5, 1031.7, 647.3, 747.7, 832.5, 10.22, 0.7, 651.7, 0.3, 744),
    ("NDI", "RU"): (1154, 1366.7, 647.3, 747.7, 1164, 10.33, 0.7, 651.7, 0.3, 744),
}
COL_TITLE_POS = [(244, 36), (584, 36), (928, 36), (1251, 36)]
ROW_LABEL_POS = {"FA": (65, 122), "AD": (65, 265), "RD": (65, 408), "MD": (65, 550), "NDI": (75, 693)}
AGE_LABEL_POS = [(235, 783), (583, 783), (916, 783), (1247, 783)]

TICKFONT = dict(family="Liberation Sans, Arial, sans-serif", size=10, color="#4d4d4d")
TEXTFONT = "Lato, Open Sans, sans-serif"

fig = go.Figure()
layout = {}
idx = 0
for r in ROWS:
    for ci, c in enumerate(COLS):
        idx += 1
        key = (r, c)
        L, R, T, B, x0, ppu, vA, pA, vB, pB = GEOM[key]
        slope = (vB - vA) / (pB - pA)
        yr = [vA + (B - pA) * slope, vA + (T - pA) * slope]
        xr = [(L - x0) / ppu, (R - x0) / ppu]
        sfx = "" if idx == 1 else str(idx)
        xa, ya = "x" + sfx, "y" + sfx
        u = UNIT[r]
        pts = POINTS[key]
        fig.add_trace(go.Scatter(
            x=[p[0] for p in pts], y=[p[1] * u for p in pts], mode="markers",
            marker=dict(color="black", size=3.8), xaxis=xa, yaxis=ya, showlegend=False))
        fx, fy = FIT[key]
        fig.add_trace(go.Scatter(
            x=fx, y=[v * u for v in fy], mode="lines", line=dict(color="black", width=1.8, shape="spline"),
            xaxis=xa, yaxis=ya, showlegend=False))
        if key in VLINE:
            xv = VLINE[key]
            top = float(np.interp(xv, fx, fy)) * u
            bot = yr[0] + 0.04 * (yr[1] - yr[0])
            fig.add_trace(go.Scatter(
                x=[xv, xv], y=[bot, top], mode="lines",
                line=dict(color="red", width=1.5, dash="5px,3px"),
                xaxis=xa, yaxis=ya, showlegend=False))
        tv, tt = Y_TICKS[r]
        common = dict(showline=True, linecolor="black", linewidth=1.1, ticks="outside", ticklen=3,
                      tickwidth=1, tickcolor="#333333", showgrid=False, zeroline=False, tickfont=TICKFONT)
        layout["xaxis" + sfx] = dict(domain=[L / W, R / W], anchor=ya, range=xr,
                                     tickvals=X_TICKS, ticktext=[str(v) for v in X_TICKS], **common)
        layout["yaxis" + sfx] = dict(domain=[1 - B / H, 1 - T / H], anchor=xa, range=yr,
                                     tickvals=tv, ticktext=tt, **common)

annotations = []
for (px, py), t in zip(COL_TITLE_POS, COL_TITLES):
    annotations.append(dict(text=t, x=px / W, y=1 - py / H, xref="paper", yref="paper", showarrow=False,
                            xanchor="center", yanchor="middle", font=dict(family=TEXTFONT, size=23, color="black")))
for r in ROWS:
    px, py = ROW_LABEL_POS[r]
    annotations.append(dict(text=r, x=px / W, y=1 - py / H, xref="paper", yref="paper", showarrow=False,
                            xanchor="center", yanchor="middle", font=dict(family=TEXTFONT, size=23, color="black")))
for px, py in AGE_LABEL_POS:
    annotations.append(dict(text="Age (years)", x=px / W, y=1 - py / H, xref="paper", yref="paper",
                            showarrow=False, xanchor="center", yanchor="middle",
                            font=dict(family=TEXTFONT, size=17, color="black")))

fig.update_layout(width=W, height=H, autosize=False, margin=dict(l=0, r=0, t=0, b=0),
                  paper_bgcolor="white", plot_bgcolor="white", annotations=annotations, **layout)

fig.write_html("out.html", config={"displayModeBar": False},
               post_script="document.body.style.margin='0';document.body.style.overflow='hidden';")
